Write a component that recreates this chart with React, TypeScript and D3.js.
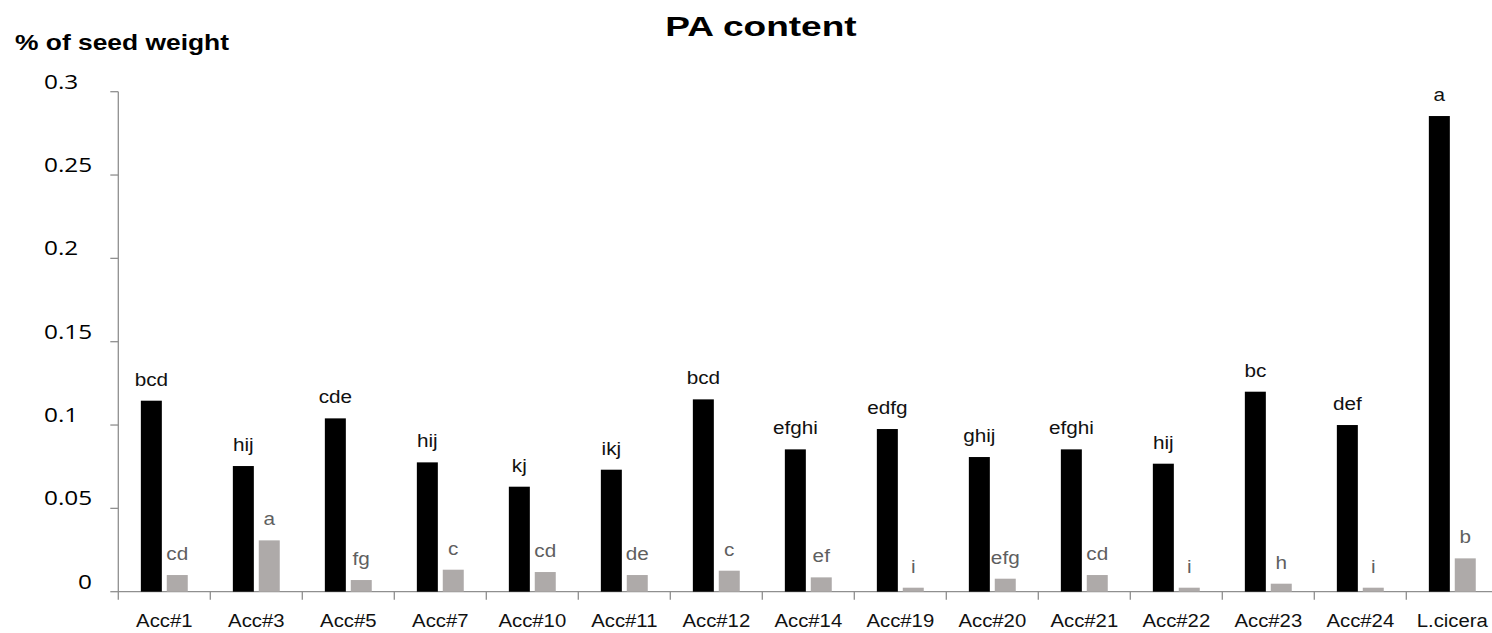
import React from "react";
import * as d3 from "d3";

const categories = ["Acc#1", "Acc#3", "Acc#5", "Acc#7", "Acc#10", "Acc#11", "Acc#12", "Acc#14", "Acc#19", "Acc#20", "Acc#21", "Acc#22", "Acc#23", "Acc#24", "L.cicera"];
const paValues = [0.1146, 0.0754, 0.104, 0.0776, 0.063, 0.0732, 0.1154, 0.0854, 0.0976, 0.0808, 0.0854, 0.0768, 0.12, 0.1, 0.2854];
const secondValues = [0.01, 0.0308, 0.007, 0.0132, 0.0118, 0.01, 0.0126, 0.0086, 0.0024, 0.0078, 0.01, 0.0024, 0.0048, 0.0024, 0.02];
const paLetters = ["bcd", "hij", "cde", "hij", "kj", "ikj", "bcd", "efghi", "edfg", "ghij", "efghi", "hij", "bc", "def", "a"];
const secondLetters = ["cd", "a", "fg", "c", "cd", "de", "c", "ef", "i", "efg", "cd", "i", "h", "i", "b"];
const yTicks = [0, 0.05, 0.1, 0.15, 0.2, 0.25, 0.3];
const yTickLabels = ["0", "0.05", "0.1", "0.15", "0.2", "0.25", "0.3"];

const W = 1492;
const H = 633;
const AXIS = "#8f8f8f";
const SANS = "'Liberation Sans', Arial, sans-serif";
const TICKFONT = "'Open Sans', sans-serif";

function T({ x, y, sx = 1, anchor = "middle", size, weight = "normal", fill = "#000", family = SANS, children }: any) {
  return (
    <text
      transform={`translate(${x},${y}) scale(${sx},1)`}
      textAnchor={anchor}
      fontSize={size}
      fontWeight={weight}
      fill={fill}
      fontFamily={family}
    >
      {children}
    </text>
  );
}

export default function App() {
  const x = d3.scaleBand<string>().domain(categories).range([118.3, 1498.3]).paddingInner(0).paddingOuter(0);
  const inner = d3.scaleBand<string>().domain(["pa", "second"]).range([0, x.bandwidth()]).paddingInner(0.19).paddingOuter(0.87);
  const y = d3.scaleLinear().domain([0, 0.3]).range([591.7, 91.7]);
  const y0 = y(0);
  const axisX = 118.3;

  return (
    <svg width={W} height={H} style={{ position: "absolute", left: 0, top: 0, display: "block", background: "#fff" }}>
      <rect x={0} y={0} width={W} height={H} fill="#fff" />
      <T x={761} y={36} sx={1.3} size={28.5} weight="bold">PA content</T>
      <T x={15} y={50} sx={1.2} anchor="start" size={22} weight="bold">% of seed weight</T>

      {/* y axis */}
      <line x1={axisX} x2={axisX} y1={y(0.3)} y2={y0 + 8} stroke={AXIS} strokeWidth={1.3} />
      {yTicks.map((t, i) => (
        <g key={"yt" + i}>
          <line x1={axisX - 8} x2={axisX} y1={y(t)} y2={y(t)} stroke={AXIS} strokeWidth={1.3} />
          {yTickLabels[i] === "0" ? (
            <T x={92} y={y(t) - 3} sx={1.22} anchor="end" size={20} family={TICKFONT}>{yTickLabels[i]}</T>
          ) : (
            <T x={44} y={y(t) - 3} sx={1.22} anchor="start" size={20} family={TICKFONT}>{yTickLabels[i]}</T>
          )}
        </g>
      ))}

      {/* x axis */}
      <line x1={axisX} x2={W} y1={y0} y2={y0} stroke={AXIS} strokeWidth={1.3} />
      {categories.map((c) => (
        <line key={"xt" + c} x1={(x(c) as number) + x.bandwidth()} x2={(x(c) as number) + x.bandwidth()} y1={y0} y2={y0 + 8} stroke={AXIS} strokeWidth={1.3} />
      ))}

      {categories.map((c, i) => {
        const bx = x(c) as number;
        const px = bx + (inner("pa") as number);
        const gx = bx + (inner("second") as number);
        const bw = inner.bandwidth();
        return (
          <g key={c}>
            <rect x={px} y={y(paValues[i])} width={bw} height={y0 - y(paValues[i])} fill="#000" />
            <rect x={gx} y={y(secondValues[i])} width={bw} height={y0 - y(secondValues[i])} fill="#aeaaa9" />
            <T x={px + bw / 2} y={y(paValues[i]) - 15} sx={1.12} size={18.5} fill="#111">{paLetters[i]}</T>
            <T x={gx + bw / 2} y={y(secondValues[i]) - 15} sx={1.12} size={18.5} fill="#5f5f5f">{secondLetters[i]}</T>
            <T x={bx + x.bandwidth() / 2} y={627} sx={1.07} size={19} fill="#111">{c}</T>
          </g>
        );
      })}
    </svg>
  );
}
